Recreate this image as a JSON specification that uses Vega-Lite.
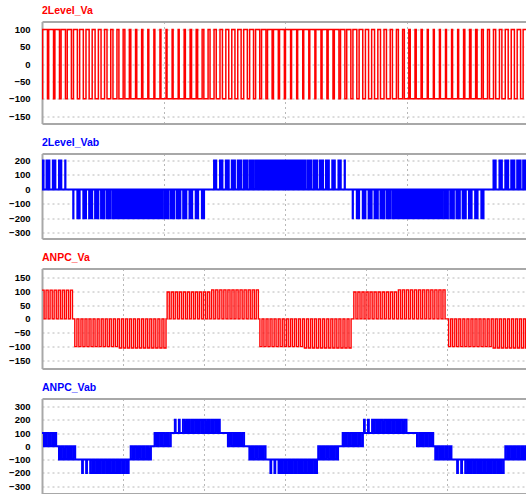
{
"$schema": "https://vega.github.io/schema/vega-lite/v6.json",
"background": "white",
"padding": {"left": 8, "top": 5.5, "right": 0, "bottom": 0},
"spacing": 14,
"config": {
  "view": {"stroke": null},
  "font": "Liberation Sans",
  "axis": {"domainColor": "#a8a8a8", "domainWidth": 2, "gridColor": "#b8b8b8", "gridDash": [2, 3], "gridWidth": 1, "ticks": false, "tickSize": 0, "labelFont": "Liberation Sans", "labelFontSize": 9.5, "labelFontWeight": "bold", "labelColor": "#000000", "labelPadding": 12},
  "title": {"anchor": "start", "frame": "group", "font": "Liberation Sans", "fontSize": 10.5, "fontWeight": "bold", "offset": 5.5, "baseline": "alphabetic"}
},
"datasets": {
"va": [
{"t":0,"v":-100},
{"t":0.05,"v":100},{"t":0.45,"v":-100},{"t":0.55,"v":100},{"t":0.95,"v":-100},{"t":1.06,"v":100},{"t":1.44,"v":-100},{"t":1.57,"v":100},{"t":1.93,"v":-100},
{"t":2.08,"v":100},{"t":2.42,"v":-100},{"t":2.59,"v":100},{"t":2.91,"v":-100},{"t":3.1,"v":100},{"t":3.4,"v":-100},{"t":3.62,"v":100},{"t":3.88,"v":-100},
{"t":4.13,"v":100},{"t":4.37,"v":-100},{"t":4.64,"v":100},{"t":4.86,"v":-100},{"t":5.15,"v":100},{"t":5.35,"v":-100},{"t":5.66,"v":100},{"t":5.84,"v":-100},
{"t":6.17,"v":100},{"t":6.33,"v":-100},{"t":6.68,"v":100},{"t":6.82,"v":-100},{"t":7.19,"v":100},{"t":7.31,"v":-100},{"t":7.7,"v":100},{"t":7.8,"v":-100},
{"t":8.2,"v":100},{"t":8.3,"v":-100},{"t":8.71,"v":100},{"t":8.79,"v":-100},{"t":9.21,"v":100},{"t":9.29,"v":-100},{"t":9.71,"v":100},{"t":9.79,"v":-100},
{"t":10.21,"v":100},{"t":10.29,"v":-100},{"t":10.71,"v":100},{"t":10.79,"v":-100},{"t":11.21,"v":100},{"t":11.29,"v":-100},{"t":11.7,"v":100},{"t":11.8,"v":-100},
{"t":12.19,"v":100},{"t":12.31,"v":-100},{"t":12.69,"v":100},{"t":12.81,"v":-100},{"t":13.18,"v":100},{"t":13.32,"v":-100},{"t":13.67,"v":100},{"t":13.83,"v":-100},
{"t":14.16,"v":100},{"t":14.34,"v":-100},{"t":14.65,"v":100},{"t":14.85,"v":-100},{"t":15.13,"v":100},{"t":15.37,"v":-100},{"t":15.62,"v":100},{"t":15.88,"v":-100},
{"t":16.11,"v":100},{"t":16.39,"v":-100},{"t":16.6,"v":100},{"t":16.9,"v":-100},{"t":17.09,"v":100},{"t":17.41,"v":-100},{"t":17.58,"v":100},{"t":17.92,"v":-100},
{"t":18.07,"v":100},{"t":18.43,"v":-100},{"t":18.56,"v":100},{"t":18.94,"v":-100},{"t":19.05,"v":100},{"t":19.45,"v":-100},{"t":19.55,"v":100},{"t":19.95,"v":-100},
{"t":20.04,"v":100},{"t":20.46,"v":-100},{"t":20.54,"v":100},{"t":20.96,"v":-100},{"t":21.04,"v":100},{"t":21.46,"v":-100},{"t":21.54,"v":100},{"t":21.96,"v":-100},
{"t":22.04,"v":100},{"t":22.46,"v":-100},{"t":22.54,"v":100},{"t":22.96,"v":-100},{"t":23.05,"v":100},{"t":23.45,"v":-100},{"t":23.55,"v":100},{"t":23.95,"v":-100},
{"t":24.06,"v":100},{"t":24.44,"v":-100},{"t":24.57,"v":100},{"t":24.93,"v":-100},{"t":25.08,"v":100},{"t":25.42,"v":-100},{"t":25.59,"v":100},{"t":25.91,"v":-100},
{"t":26.1,"v":100},{"t":26.4,"v":-100},{"t":26.62,"v":100},{"t":26.88,"v":-100},{"t":27.13,"v":100},{"t":27.37,"v":-100},{"t":27.64,"v":100},{"t":27.86,"v":-100},
{"t":28.15,"v":100},{"t":28.35,"v":-100},{"t":28.66,"v":100},{"t":28.84,"v":-100},{"t":29.17,"v":100},{"t":29.33,"v":-100},{"t":29.68,"v":100},{"t":29.82,"v":-100},
{"t":30.19,"v":100},{"t":30.31,"v":-100},{"t":30.7,"v":100},{"t":30.8,"v":-100},{"t":31.2,"v":100},{"t":31.3,"v":-100},{"t":31.71,"v":100},{"t":31.79,"v":-100},
{"t":32.21,"v":100},{"t":32.29,"v":-100},{"t":32.71,"v":100},{"t":32.79,"v":-100},{"t":33.21,"v":100},{"t":33.29,"v":-100},{"t":33.71,"v":100},{"t":33.79,"v":-100},
{"t":34.21,"v":100},{"t":34.29,"v":-100},{"t":34.7,"v":100},{"t":34.8,"v":-100},{"t":35.19,"v":100},{"t":35.31,"v":-100},{"t":35.69,"v":100},{"t":35.81,"v":-100},
{"t":36.18,"v":100},{"t":36.32,"v":-100},{"t":36.67,"v":100},{"t":36.83,"v":-100},{"t":37.16,"v":100},{"t":37.34,"v":-100},{"t":37.65,"v":100},{"t":37.85,"v":-100},
{"t":38.13,"v":100},{"t":38.37,"v":-100},{"t":38.62,"v":100},{"t":38.88,"v":-100},{"t":39.11,"v":100},{"t":39.39,"v":-100},{"t":39.6,"v":100},{"t":39.9,"v":-100},
{"t":40,"v":-100}
],
"vab": [
{"t":0,"v":0},
{"t":0.05,"v":200},{"t":0.13,"v":0},{"t":0.37,"v":200},{"t":0.45,"v":0},{"t":0.55,"v":200},{"t":0.61,"v":0},{"t":0.89,"v":200},{"t":0.95,"v":0},
{"t":1.06,"v":200},{"t":1.1,"v":0},{"t":1.4,"v":200},{"t":1.44,"v":0},{"t":1.57,"v":200},{"t":1.59,"v":0},{"t":1.91,"v":200},{"t":1.93,"v":0},
{"t":2.57,"v":-200},{"t":2.59,"v":0},{"t":2.91,"v":-200},{"t":2.93,"v":0},{"t":3.06,"v":-200},{"t":3.1,"v":0},{"t":3.4,"v":-200},{"t":3.44,"v":0},
{"t":3.55,"v":-200},{"t":3.62,"v":0},{"t":3.88,"v":-200},{"t":3.95,"v":0},{"t":4.05,"v":-200},{"t":4.13,"v":0},{"t":4.37,"v":-200},{"t":4.45,"v":0},
{"t":4.54,"v":-200},{"t":4.64,"v":0},{"t":4.86,"v":-200},{"t":4.96,"v":0},{"t":5.04,"v":-200},{"t":5.15,"v":0},{"t":5.35,"v":-200},{"t":5.46,"v":0},
{"t":5.54,"v":-200},{"t":5.66,"v":0},{"t":5.84,"v":-200},{"t":5.96,"v":0},{"t":6.04,"v":-200},{"t":6.17,"v":0},{"t":6.33,"v":-200},{"t":6.46,"v":0},
{"t":6.54,"v":-200},{"t":6.68,"v":0},{"t":6.82,"v":-200},{"t":6.96,"v":0},{"t":7.04,"v":-200},{"t":7.19,"v":0},{"t":7.31,"v":-200},{"t":7.46,"v":0},
{"t":7.55,"v":-200},{"t":7.7,"v":0},{"t":7.8,"v":-200},{"t":7.95,"v":0},{"t":8.05,"v":-200},{"t":8.2,"v":0},{"t":8.3,"v":-200},{"t":8.45,"v":0},
{"t":8.56,"v":-200},{"t":8.71,"v":0},{"t":8.79,"v":-200},{"t":8.94,"v":0},{"t":9.07,"v":-200},{"t":9.21,"v":0},{"t":9.29,"v":-200},{"t":9.43,"v":0},
{"t":9.58,"v":-200},{"t":9.71,"v":0},{"t":9.79,"v":-200},{"t":9.92,"v":0},{"t":10.09,"v":-200},{"t":10.21,"v":0},{"t":10.29,"v":-200},{"t":10.41,"v":0},
{"t":10.6,"v":-200},{"t":10.71,"v":0},{"t":10.79,"v":-200},{"t":10.9,"v":0},{"t":11.11,"v":-200},{"t":11.21,"v":0},{"t":11.29,"v":-200},{"t":11.39,"v":0},
{"t":11.62,"v":-200},{"t":11.7,"v":0},{"t":11.8,"v":-200},{"t":11.88,"v":0},{"t":12.14,"v":-200},{"t":12.2,"v":0},{"t":12.3,"v":-200},{"t":12.36,"v":0},
{"t":12.65,"v":-200},{"t":12.69,"v":0},{"t":12.81,"v":-200},{"t":12.85,"v":0},{"t":13.16,"v":-200},{"t":13.18,"v":0},{"t":13.32,"v":-200},{"t":13.34,"v":0},
{"t":14.16,"v":200},{"t":14.18,"v":0},{"t":14.32,"v":200},{"t":14.34,"v":0},{"t":14.65,"v":200},{"t":14.69,"v":0},{"t":14.81,"v":200},{"t":14.85,"v":0},
{"t":15.13,"v":200},{"t":15.2,"v":0},{"t":15.3,"v":200},{"t":15.37,"v":0},{"t":15.62,"v":200},{"t":15.7,"v":0},{"t":15.8,"v":200},{"t":15.88,"v":0},
{"t":16.11,"v":200},{"t":16.21,"v":0},{"t":16.29,"v":200},{"t":16.39,"v":0},{"t":16.6,"v":200},{"t":16.71,"v":0},{"t":16.79,"v":200},{"t":16.9,"v":0},
{"t":17.09,"v":200},{"t":17.21,"v":0},{"t":17.29,"v":200},{"t":17.41,"v":0},{"t":17.58,"v":200},{"t":17.71,"v":0},{"t":17.79,"v":200},{"t":17.92,"v":0},
{"t":18.07,"v":200},{"t":18.21,"v":0},{"t":18.29,"v":200},{"t":18.43,"v":0},{"t":18.56,"v":200},{"t":18.71,"v":0},{"t":18.79,"v":200},{"t":18.94,"v":0},
{"t":19.05,"v":200},{"t":19.2,"v":0},{"t":19.3,"v":200},{"t":19.45,"v":0},{"t":19.55,"v":200},{"t":19.7,"v":0},{"t":19.8,"v":200},{"t":19.95,"v":0},
{"t":20.04,"v":200},{"t":20.19,"v":0},{"t":20.31,"v":200},{"t":20.46,"v":0},{"t":20.54,"v":200},{"t":20.68,"v":0},{"t":20.82,"v":200},{"t":20.96,"v":0},
{"t":21.04,"v":200},{"t":21.17,"v":0},{"t":21.33,"v":200},{"t":21.46,"v":0},{"t":21.54,"v":200},{"t":21.66,"v":0},{"t":21.84,"v":200},{"t":21.96,"v":0},
{"t":22.04,"v":200},{"t":22.15,"v":0},{"t":22.35,"v":200},{"t":22.46,"v":0},{"t":22.54,"v":200},{"t":22.64,"v":0},{"t":22.86,"v":200},{"t":22.96,"v":0},
{"t":23.05,"v":200},{"t":23.13,"v":0},{"t":23.37,"v":200},{"t":23.45,"v":0},{"t":23.55,"v":200},{"t":23.61,"v":0},{"t":23.89,"v":200},{"t":23.95,"v":0},
{"t":24.06,"v":200},{"t":24.1,"v":0},{"t":24.4,"v":200},{"t":24.44,"v":0},{"t":24.57,"v":200},{"t":24.59,"v":0},{"t":24.91,"v":200},{"t":24.93,"v":0},
{"t":25.57,"v":-200},{"t":25.59,"v":0},{"t":25.91,"v":-200},{"t":25.93,"v":0},{"t":26.06,"v":-200},{"t":26.1,"v":0},{"t":26.4,"v":-200},{"t":26.44,"v":0},
{"t":26.55,"v":-200},{"t":26.62,"v":0},{"t":26.88,"v":-200},{"t":26.95,"v":0},{"t":27.05,"v":-200},{"t":27.13,"v":0},{"t":27.37,"v":-200},{"t":27.45,"v":0},
{"t":27.54,"v":-200},{"t":27.64,"v":0},{"t":27.86,"v":-200},{"t":27.96,"v":0},{"t":28.04,"v":-200},{"t":28.15,"v":0},{"t":28.35,"v":-200},{"t":28.46,"v":0},
{"t":28.54,"v":-200},{"t":28.66,"v":0},{"t":28.84,"v":-200},{"t":28.96,"v":0},{"t":29.04,"v":-200},{"t":29.17,"v":0},{"t":29.33,"v":-200},{"t":29.46,"v":0},
{"t":29.54,"v":-200},{"t":29.68,"v":0},{"t":29.82,"v":-200},{"t":29.96,"v":0},{"t":30.04,"v":-200},{"t":30.19,"v":0},{"t":30.31,"v":-200},{"t":30.46,"v":0},
{"t":30.55,"v":-200},{"t":30.7,"v":0},{"t":30.8,"v":-200},{"t":30.95,"v":0},{"t":31.05,"v":-200},{"t":31.2,"v":0},{"t":31.3,"v":-200},{"t":31.45,"v":0},
{"t":31.56,"v":-200},{"t":31.71,"v":0},{"t":31.79,"v":-200},{"t":31.94,"v":0},{"t":32.07,"v":-200},{"t":32.21,"v":0},{"t":32.29,"v":-200},{"t":32.43,"v":0},
{"t":32.58,"v":-200},{"t":32.71,"v":0},{"t":32.79,"v":-200},{"t":32.92,"v":0},{"t":33.09,"v":-200},{"t":33.21,"v":0},{"t":33.29,"v":-200},{"t":33.41,"v":0},
{"t":33.6,"v":-200},{"t":33.71,"v":0},{"t":33.79,"v":-200},{"t":33.9,"v":0},{"t":34.11,"v":-200},{"t":34.21,"v":0},{"t":34.29,"v":-200},{"t":34.39,"v":0},
{"t":34.62,"v":-200},{"t":34.7,"v":0},{"t":34.8,"v":-200},{"t":34.88,"v":0},{"t":35.14,"v":-200},{"t":35.2,"v":0},{"t":35.3,"v":-200},{"t":35.36,"v":0},
{"t":35.65,"v":-200},{"t":35.69,"v":0},{"t":35.81,"v":-200},{"t":35.85,"v":0},{"t":36.16,"v":-200},{"t":36.18,"v":0},{"t":36.32,"v":-200},{"t":36.34,"v":0},
{"t":37.16,"v":200},{"t":37.18,"v":0},{"t":37.32,"v":200},{"t":37.34,"v":0},{"t":37.65,"v":200},{"t":37.69,"v":0},{"t":37.81,"v":200},{"t":37.85,"v":0},
{"t":38.13,"v":200},{"t":38.2,"v":0},{"t":38.3,"v":200},{"t":38.37,"v":0},{"t":38.62,"v":200},{"t":38.7,"v":0},{"t":38.8,"v":200},{"t":38.88,"v":0},
{"t":39.11,"v":200},{"t":39.21,"v":0},{"t":39.29,"v":200},{"t":39.39,"v":0},{"t":39.6,"v":200},{"t":39.71,"v":0},{"t":39.79,"v":200},{"t":39.9,"v":0},
{"t":40,"v":0}
],
"anva": [
{"t":0,"v":104},{"t":0.26,"v":0},{"t":0.5,"v":104},{"t":0.76,"v":0},{"t":1,"v":104},{"t":1.26,"v":0},{"t":1.5,"v":104},{"t":1.76,"v":0},
{"t":2,"v":104},{"t":2.26,"v":0},{"t":2.5,"v":104},{"t":2.76,"v":0},{"t":3,"v":104},{"t":3.26,"v":0},{"t":3.5,"v":104},{"t":3.76,"v":0},
{"t":4.05,"v":-100},{"t":4.31,"v":0},{"t":4.55,"v":-100},{"t":4.81,"v":0},{"t":5.05,"v":-100},{"t":5.31,"v":0},{"t":5.55,"v":-100},{"t":5.81,"v":0},
{"t":6.05,"v":-100},{"t":6.31,"v":0},{"t":6.55,"v":-100},{"t":6.81,"v":0},{"t":7.05,"v":-100},{"t":7.31,"v":0},{"t":7.55,"v":-100},{"t":7.81,"v":0},
{"t":8.05,"v":-100},{"t":8.31,"v":0},{"t":8.55,"v":-100},{"t":8.81,"v":0},{"t":9.05,"v":-100},{"t":9.31,"v":0},
{"t":9.55,"v":-105},{"t":9.81,"v":0},{"t":10.05,"v":-105},{"t":10.31,"v":0},{"t":10.55,"v":-105},{"t":10.81,"v":0},{"t":11.05,"v":-105},{"t":11.31,"v":0},
{"t":11.55,"v":-105},{"t":11.81,"v":0},{"t":12.05,"v":-105},{"t":12.31,"v":0},{"t":12.55,"v":-105},{"t":12.81,"v":0},{"t":13.05,"v":-105},{"t":13.31,"v":0},
{"t":13.55,"v":-105},{"t":13.81,"v":0},{"t":14.05,"v":-105},{"t":14.31,"v":0},{"t":14.55,"v":-105},{"t":14.81,"v":0},{"t":15.05,"v":-105},{"t":15.31,"v":0},
{"t":15.45,"v":97},{"t":15.71,"v":0},{"t":15.95,"v":97},{"t":16.21,"v":0},{"t":16.45,"v":97},{"t":16.71,"v":0},{"t":16.95,"v":97},{"t":17.21,"v":0},
{"t":17.45,"v":97},{"t":17.71,"v":0},{"t":17.95,"v":97},{"t":18.21,"v":0},{"t":18.45,"v":97},{"t":18.71,"v":0},{"t":18.95,"v":97},{"t":19.21,"v":0},
{"t":19.45,"v":97},{"t":19.71,"v":0},{"t":19.95,"v":97},{"t":20.21,"v":0},{"t":20.45,"v":97},{"t":20.71,"v":0},
{"t":20.95,"v":105},{"t":21.21,"v":0},{"t":21.45,"v":105},{"t":21.71,"v":0},{"t":21.95,"v":105},{"t":22.21,"v":0},{"t":22.45,"v":105},{"t":22.71,"v":0},
{"t":22.95,"v":105},{"t":23.21,"v":0},{"t":23.45,"v":105},{"t":23.71,"v":0},{"t":23.95,"v":105},{"t":24.21,"v":0},{"t":24.45,"v":105},{"t":24.71,"v":0},
{"t":24.95,"v":105},{"t":25.21,"v":0},{"t":25.45,"v":105},{"t":25.71,"v":0},{"t":25.95,"v":105},{"t":26.21,"v":0},{"t":26.45,"v":105},{"t":26.71,"v":0},
{"t":26.9,"v":-100},{"t":27.16,"v":0},{"t":27.4,"v":-100},{"t":27.66,"v":0},{"t":27.9,"v":-100},{"t":28.16,"v":0},{"t":28.4,"v":-100},{"t":28.66,"v":0},
{"t":28.9,"v":-100},{"t":29.16,"v":0},{"t":29.4,"v":-100},{"t":29.66,"v":0},{"t":29.9,"v":-100},{"t":30.16,"v":0},{"t":30.4,"v":-100},{"t":30.66,"v":0},
{"t":30.9,"v":-100},{"t":31.16,"v":0},{"t":31.4,"v":-100},{"t":31.66,"v":0},{"t":31.9,"v":-100},{"t":32.16,"v":0},
{"t":32.4,"v":-105},{"t":32.66,"v":0},{"t":32.9,"v":-105},{"t":33.16,"v":0},{"t":33.4,"v":-105},{"t":33.66,"v":0},{"t":33.9,"v":-105},{"t":34.16,"v":0},
{"t":34.4,"v":-105},{"t":34.66,"v":0},{"t":34.9,"v":-105},{"t":35.16,"v":0},{"t":35.4,"v":-105},{"t":35.66,"v":0},{"t":35.9,"v":-105},{"t":36.16,"v":0},
{"t":36.4,"v":-105},{"t":36.66,"v":0},{"t":36.9,"v":-105},{"t":37.16,"v":0},{"t":37.4,"v":-105},{"t":37.66,"v":0},{"t":37.9,"v":-105},{"t":38.16,"v":0},
{"t":38.5,"v":97},{"t":38.76,"v":0},{"t":39,"v":97},{"t":39.26,"v":0},{"t":39.5,"v":97},{"t":39.76,"v":0},{"t":40,"v":97},{"t":40.26,"v":0},
{"t":40.5,"v":97},{"t":40.76,"v":0},{"t":41,"v":97},{"t":41.26,"v":0},{"t":41.5,"v":97},{"t":41.76,"v":0},{"t":42,"v":97},{"t":42.26,"v":0},
{"t":42.5,"v":97},{"t":42.76,"v":0},{"t":43,"v":97},{"t":43.26,"v":0},{"t":43.5,"v":97},{"t":43.76,"v":0},
{"t":44,"v":105},{"t":44.26,"v":0},{"t":44.5,"v":105},{"t":44.76,"v":0},{"t":45,"v":105},{"t":45.26,"v":0},{"t":45.5,"v":105},{"t":45.76,"v":0},
{"t":46,"v":105},{"t":46.26,"v":0},{"t":46.5,"v":105},{"t":46.76,"v":0},{"t":47,"v":105},{"t":47.26,"v":0},{"t":47.5,"v":105},{"t":47.76,"v":0},
{"t":48,"v":105},{"t":48.26,"v":0},{"t":48.5,"v":105},{"t":48.76,"v":0},{"t":49,"v":105},{"t":49.26,"v":0},{"t":49.5,"v":105},{"t":49.76,"v":0},
{"t":50.2,"v":-100},{"t":50.46,"v":0},{"t":50.7,"v":-100},{"t":50.96,"v":0},{"t":51.2,"v":-100},{"t":51.46,"v":0},{"t":51.7,"v":-100},{"t":51.96,"v":0},
{"t":52.2,"v":-100},{"t":52.46,"v":0},{"t":52.7,"v":-100},{"t":52.96,"v":0},{"t":53.2,"v":-100},{"t":53.46,"v":0},{"t":53.7,"v":-100},{"t":53.96,"v":0},
{"t":54.2,"v":-100},{"t":54.46,"v":0},{"t":54.7,"v":-100},{"t":54.96,"v":0},{"t":55.2,"v":-100},{"t":55.46,"v":0},
{"t":55.7,"v":-105},{"t":55.96,"v":0},{"t":56.2,"v":-105},{"t":56.46,"v":0},{"t":56.7,"v":-105},{"t":56.96,"v":0},{"t":57.2,"v":-105},{"t":57.46,"v":0},
{"t":57.7,"v":-105},{"t":57.96,"v":0},{"t":58.2,"v":-105},{"t":58.46,"v":0},{"t":58.7,"v":-105},{"t":58.96,"v":0},{"t":59.2,"v":-105},{"t":59.46,"v":0},
{"t":59.7,"v":-105},{"t":59.96,"v":0},{"t":60,"v":0}
],
"anvab": [
{"t":0,"v":100},{"t":0.25,"v":0},{"t":0.5,"v":100},{"t":0.75,"v":0},{"t":1,"v":100},{"t":1.25,"v":0},{"t":1.5,"v":100},{"t":1.75,"v":0},
{"t":2.1,"v":-100},{"t":2.35,"v":0},{"t":2.6,"v":-100},{"t":2.85,"v":0},{"t":3.1,"v":-100},{"t":3.35,"v":0},{"t":3.6,"v":-100},{"t":3.85,"v":0},{"t":4.1,"v":-100},
{"t":4.95,"v":-200},{"t":5.05,"v":-100},{"t":5.45,"v":-200},{"t":5.55,"v":-100},{"t":5.95,"v":-200},{"t":6.2,"v":-100},{"t":6.45,"v":-200},{"t":6.7,"v":-100},
{"t":6.95,"v":-200},{"t":7.2,"v":-100},{"t":7.45,"v":-200},{"t":7.7,"v":-100},{"t":7.95,"v":-200},{"t":8.2,"v":-100},{"t":8.45,"v":-200},{"t":8.7,"v":-100},
{"t":8.95,"v":-200},{"t":9.2,"v":-100},{"t":9.45,"v":-200},{"t":9.7,"v":-100},{"t":9.95,"v":-200},{"t":10.2,"v":-100},{"t":10.45,"v":-200},{"t":10.7,"v":-100},
{"t":10.95,"v":0},{"t":11.2,"v":-100},{"t":11.45,"v":0},{"t":11.7,"v":-100},{"t":11.95,"v":0},{"t":12.2,"v":-100},{"t":12.45,"v":0},{"t":12.7,"v":-100},{"t":12.95,"v":0},{"t":13.2,"v":-100},{"t":13.45,"v":0},
{"t":13.9,"v":100},{"t":14.15,"v":0},{"t":14.4,"v":100},{"t":14.65,"v":0},{"t":14.9,"v":100},{"t":15.15,"v":0},{"t":15.4,"v":100},{"t":15.65,"v":0},{"t":15.9,"v":100},
{"t":16.4,"v":200},{"t":16.5,"v":100},{"t":16.9,"v":200},{"t":17,"v":100},{"t":17.4,"v":200},{"t":17.65,"v":100},{"t":17.9,"v":200},{"t":18.15,"v":100},
{"t":18.4,"v":200},{"t":18.65,"v":100},{"t":18.9,"v":200},{"t":19.15,"v":100},{"t":19.4,"v":200},{"t":19.65,"v":100},{"t":19.9,"v":200},{"t":20.15,"v":100},
{"t":20.4,"v":200},{"t":20.65,"v":100},{"t":20.9,"v":200},{"t":21.15,"v":100},{"t":21.4,"v":200},{"t":21.65,"v":100},{"t":21.75,"v":200},{"t":21.95,"v":100},
{"t":22.95,"v":0},{"t":23.2,"v":100},{"t":23.45,"v":0},{"t":23.7,"v":100},{"t":23.95,"v":0},{"t":24.2,"v":100},{"t":24.45,"v":0},{"t":24.7,"v":100},{"t":24.95,"v":0},
{"t":25.6,"v":-100},{"t":25.85,"v":0},{"t":26.1,"v":-100},{"t":26.35,"v":0},{"t":26.6,"v":-100},{"t":26.85,"v":0},{"t":27.1,"v":-100},{"t":27.35,"v":0},{"t":27.6,"v":-100},
{"t":28.2,"v":-200},{"t":28.3,"v":-100},{"t":28.7,"v":-200},{"t":28.8,"v":-100},{"t":29.2,"v":-200},{"t":29.45,"v":-100},{"t":29.7,"v":-200},{"t":29.95,"v":-100},
{"t":30.2,"v":-200},{"t":30.45,"v":-100},{"t":30.7,"v":-200},{"t":30.95,"v":-100},{"t":31.2,"v":-200},{"t":31.45,"v":-100},{"t":31.7,"v":-200},{"t":31.95,"v":-100},
{"t":32.2,"v":-200},{"t":32.45,"v":-100},{"t":32.7,"v":-200},{"t":32.95,"v":-100},{"t":33.2,"v":-200},{"t":33.45,"v":-100},{"t":33.7,"v":-200},{"t":33.95,"v":-100},
{"t":34.1,"v":0},{"t":34.35,"v":-100},{"t":34.6,"v":0},{"t":34.85,"v":-100},{"t":35.1,"v":0},{"t":35.35,"v":-100},{"t":35.6,"v":0},{"t":35.85,"v":-100},{"t":36.1,"v":0},{"t":36.35,"v":-100},{"t":36.55,"v":0},
{"t":37.12,"v":100},{"t":37.37,"v":0},{"t":37.62,"v":100},{"t":37.87,"v":0},{"t":38.12,"v":100},{"t":38.37,"v":0},{"t":38.62,"v":100},{"t":38.87,"v":0},{"t":39.12,"v":100},{"t":39.37,"v":0},{"t":39.62,"v":100},
{"t":39.75,"v":200},{"t":39.85,"v":100},{"t":40.25,"v":200},{"t":40.35,"v":100},{"t":40.75,"v":200},{"t":41,"v":100},{"t":41.25,"v":200},{"t":41.5,"v":100},
{"t":41.75,"v":200},{"t":42,"v":100},{"t":42.25,"v":200},{"t":42.5,"v":100},{"t":42.75,"v":200},{"t":43,"v":100},{"t":43.25,"v":200},{"t":43.5,"v":100},
{"t":43.75,"v":200},{"t":44,"v":100},{"t":44.25,"v":200},{"t":44.5,"v":100},{"t":44.75,"v":200},{"t":45,"v":100},
{"t":46.3,"v":0},{"t":46.55,"v":100},{"t":46.8,"v":0},{"t":47.05,"v":100},{"t":47.3,"v":0},{"t":47.55,"v":100},{"t":47.8,"v":0},{"t":48.05,"v":100},{"t":48.3,"v":0},
{"t":48.55,"v":-100},{"t":48.8,"v":0},{"t":49.05,"v":-100},{"t":49.3,"v":0},{"t":49.55,"v":-100},{"t":49.8,"v":0},{"t":50.05,"v":-100},{"t":50.3,"v":0},{"t":50.55,"v":-100},
{"t":51.25,"v":-200},{"t":51.35,"v":-100},{"t":51.75,"v":-200},{"t":51.85,"v":-100},{"t":52.25,"v":-200},{"t":52.5,"v":-100},{"t":52.75,"v":-200},{"t":53,"v":-100},
{"t":53.25,"v":-200},{"t":53.5,"v":-100},{"t":53.75,"v":-200},{"t":54,"v":-100},{"t":54.25,"v":-200},{"t":54.5,"v":-100},{"t":54.75,"v":-200},{"t":55,"v":-100},
{"t":55.25,"v":-200},{"t":55.5,"v":-100},{"t":55.75,"v":-200},{"t":56,"v":-100},{"t":56.25,"v":-200},{"t":56.5,"v":-100},{"t":56.75,"v":-200},{"t":57,"v":-100},
{"t":57.2,"v":0},{"t":57.45,"v":-100},{"t":57.7,"v":0},{"t":57.95,"v":-100},{"t":58.2,"v":0},{"t":58.45,"v":-100},{"t":58.7,"v":0},{"t":58.95,"v":-100},
{"t":59.2,"v":0},{"t":59.45,"v":-100},{"t":59.7,"v":0},{"t":59.95,"v":-100},{"t":60,"v":-100}
]
},
"vconcat": [
{
  "title": {"text": "2Level_Va", "color": "#ff0000"},
  "width": 486, "height": 102,
  "layer": [
    {"data": {"name": "va"}, "mark": {"type": "line", "interpolate": "step-after", "color": "#ff0000", "strokeWidth": 1.5, "clip": true},
     "encoding": {
       "x": {"field": "t", "type": "quantitative", "scale": {"domain": [0, 40], "nice": false, "zero": false}, "axis": {"values": [10, 20, 30], "labels": false, "grid": true, "title": null}},
       "y": {"field": "v", "type": "quantitative", "scale": {"domain": [-171, 123], "nice": false, "zero": false}, "axis": {"values": [-150, -100, -50, 0, 50, 100], "grid": true, "title": null}}
     }},
    {"data": {"name": "va"}, "transform": [{"filter": "false"}], "mark": "point",
     "encoding": {"x": {"field": "t", "type": "quantitative", "axis": {"orient": "top", "labels": false, "grid": false, "title": null}}}}
  ],
  "resolve": {"axis": {"x": "independent"}}
},
{
  "title": {"text": "2Level_Vab", "color": "#0000ff"},
  "width": 486, "height": 85,
  "layer": [
    {"data": {"name": "vab"}, "mark": {"type": "line", "interpolate": "step-after", "color": "#0000ff", "strokeWidth": 2, "clip": true},
     "encoding": {
       "x": {"field": "t", "type": "quantitative", "scale": {"domain": [0, 40], "nice": false, "zero": false}, "axis": {"values": [10, 20, 30], "labels": false, "grid": true, "title": null}},
       "y": {"field": "v", "type": "quantitative", "scale": {"domain": [-339, 248], "nice": false, "zero": false}, "axis": {"values": [-300, -200, -100, 0, 100, 200], "grid": true, "title": null}}
     }},
    {"data": {"name": "vab"}, "transform": [{"filter": "false"}], "mark": "point",
     "encoding": {"x": {"field": "t", "type": "quantitative", "axis": {"orient": "top", "labels": false, "grid": false, "title": null}}}}
  ],
  "resolve": {"axis": {"x": "independent"}}
},
{
  "title": {"text": "ANPC_Va", "color": "#ff0000"},
  "width": 486, "height": 100,
  "layer": [
    {"data": {"name": "anva"}, "mark": {"type": "line", "interpolate": "step-after", "color": "#ff0000", "strokeWidth": 1.4, "clip": true},
     "encoding": {
       "x": {"field": "t", "type": "quantitative", "scale": {"domain": [0, 60], "nice": false, "zero": false}, "axis": {"values": [10, 20, 30, 40, 50], "labels": false, "grid": true, "title": null}},
       "y": {"field": "v", "type": "quantitative", "scale": {"domain": [-179, 182], "nice": false, "zero": false}, "axis": {"values": [-150, -100, -50, 0, 50, 100, 150], "grid": true, "title": null}}
     }},
    {"data": {"name": "anva"}, "transform": [{"filter": "false"}], "mark": "point",
     "encoding": {"x": {"field": "t", "type": "quantitative", "axis": {"orient": "top", "labels": false, "grid": false, "title": null}}}}
  ],
  "resolve": {"axis": {"x": "independent"}}
},
{
  "title": {"text": "ANPC_Vab", "color": "#0000ff"},
  "width": 486, "height": 95,
  "layer": [
    {"data": {"name": "anvab"}, "mark": {"type": "line", "interpolate": "step-after", "color": "#0000ff", "strokeWidth": 2, "clip": true},
     "encoding": {
       "x": {"field": "t", "type": "quantitative", "scale": {"domain": [0, 60], "nice": false, "zero": false}, "axis": {"values": [10, 20, 30, 40, 50], "labels": false, "grid": true, "title": null}},
       "y": {"field": "v", "type": "quantitative", "scale": {"domain": [-355, 360], "nice": false, "zero": false}, "axis": {"values": [-300, -200, -100, 0, 100, 200, 300], "grid": true, "title": null}}
     }},
    {"data": {"name": "anvab"}, "transform": [{"filter": "false"}], "mark": "point",
     "encoding": {"x": {"field": "t", "type": "quantitative", "axis": {"orient": "top", "labels": false, "grid": false, "title": null}}}}
  ],
  "resolve": {"axis": {"x": "independent"}}
}
]
}
